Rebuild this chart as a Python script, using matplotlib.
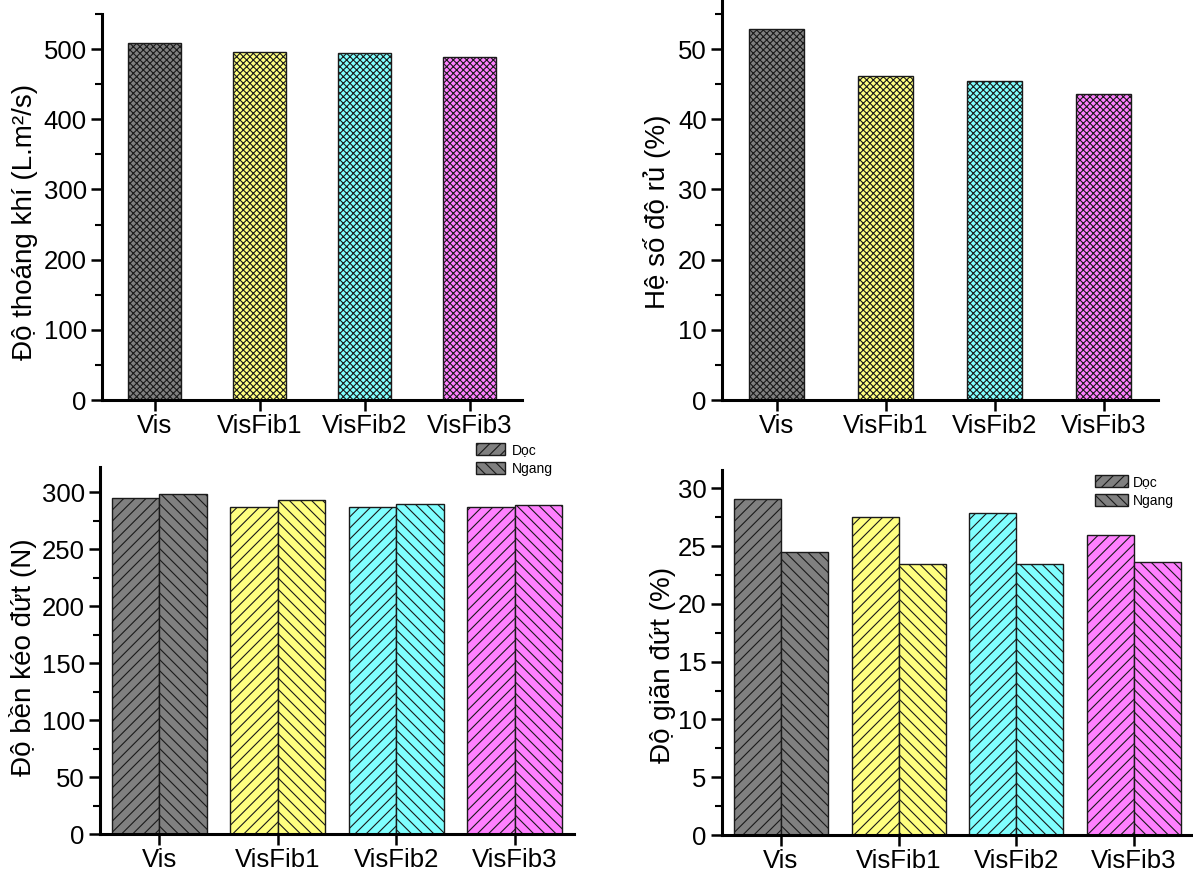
import numpy as np
import matplotlib
matplotlib.use("Agg")
import matplotlib.pyplot as plt
from matplotlib.ticker import MultipleLocator

plt.rcParams['font.family'] = ['Liberation Sans', 'DejaVu Sans']
plt.rcParams['hatch.linewidth'] = 0.8

# data
categories = ['Vis', 'VisFib1', 'VisFib2', 'VisFib3']
bar_colors = ['#808080', '#ffff80', '#80ffff', '#ff80ff']
thoang_khi = [509, 496, 494, 489]
do_ru = [52.9, 46.1, 45.5, 43.6]
ben_doc = [294.7, 286.8, 287.1, 286.5]
ben_ngang = [298.2, 293.2, 289.1, 288.5]
gian_doc = [29.1, 27.5, 27.85, 26.0]
gian_ngang = [24.5, 23.5, 23.5, 23.65]
series_labels = ['Dọc', 'Ngang']

W, H = 1193, 872
fig = plt.figure(figsize=(W / 100, H / 100), dpi=100)


def px_axes(x0, x1, ytop, ybot):
    # axes rect from pixel box
    return fig.add_axes([x0 / W, 1 - ybot / H, (x1 - x0) / W, (ybot - ytop) / H])


def style(ax, ymax, major, minor):
    for s in ['top', 'right']:
        ax.spines[s].set_visible(False)
    for s in ['left', 'bottom']:
        ax.spines[s].set_linewidth(2.2)
    ax.set_xlim(0.5, 4.5)
    ax.set_ylim(0, ymax)
    ax.yaxis.set_major_locator(MultipleLocator(major))
    ax.yaxis.set_minor_locator(MultipleLocator(minor))
    ax.set_xticks(np.arange(1, 5))
    ax.set_xticklabels(categories)
    ax.tick_params(axis='both', which='major', direction='out', length=8, width=1.8,
                   labelsize=18.5, pad=3)
    ax.tick_params(axis='y', which='minor', direction='out', length=5, width=1.5)
    ax.tick_params(axis='x', which='major', pad=2)


x = np.arange(1, 5)

# top left
ax1 = px_axes(102, 522, 14, 400)
ax1.bar(x, thoang_khi, width=0.5, color=bar_colors, edgecolor='#1a1a1a',
        linewidth=1.0, hatch='xxxxx')
style(ax1, 550, 100, 50)
fig.text(25 / W, 1 - 222 / H, 'Độ thoáng khí (L.m²/s)', rotation=90,
         ha='center', va='center', fontsize=20)

# top right
ax2 = px_axes(722, 1158, 0, 400)
ax2.bar(x, do_ru, width=0.5, color=bar_colors, edgecolor='#1a1a1a',
        linewidth=1.0, hatch='xxxxx')
style(ax2, 57, 10, 5)
fig.text(657 / W, 1 - 212 / H, 'Hệ số độ rủ (%)', rotation=90,
         ha='center', va='center', fontsize=20)

# bottom left
ax3 = px_axes(100, 574, 467, 834)
ax3.bar(x - 0.2, ben_doc, width=0.4, color=bar_colors, edgecolor='#1a1a1a',
        linewidth=1.0, hatch='///', label=series_labels[0])
ax3.bar(x + 0.2, ben_ngang, width=0.4, color=bar_colors, edgecolor='#1a1a1a',
        linewidth=1.0, hatch='\\\\\\', label=series_labels[1])
style(ax3, 322, 50, 25)
fig.text(23 / W, 1 - 657 / H, 'Độ bền kéo đứt (N)', rotation=90,
         ha='center', va='center', fontsize=20)
ax3.legend(loc='upper left', bbox_to_anchor=(476 / W, 1 - 443 / H),
           bbox_transform=fig.transFigure, frameon=False, borderpad=0,
           borderaxespad=0, fontsize=10, handlelength=2.1, handleheight=0.9,
           handletextpad=0.5, labelspacing=0.35)

# bottom right
ax4 = px_axes(722, 1193, 470, 835)
ax4.bar(x - 0.2, gian_doc, width=0.4, color=bar_colors, edgecolor='#1a1a1a',
        linewidth=1.0, hatch='///', label=series_labels[0])
ax4.bar(x + 0.2, gian_ngang, width=0.4, color=bar_colors, edgecolor='#1a1a1a',
        linewidth=1.0, hatch='\\\\\\', label=series_labels[1])
style(ax4, 31.6, 5, 2.5)
fig.text(663 / W, 1 - 665 / H, 'Độ giãn đứt (%)', rotation=90,
         ha='center', va='center', fontsize=20)
ax4.legend(loc='upper left', bbox_to_anchor=(1095 / W, 1 - 475 / H),
           bbox_transform=fig.transFigure, frameon=False, borderpad=0,
           borderaxespad=0, fontsize=10, handlelength=2.4, handleheight=0.95,
           handletextpad=0.3, labelspacing=0.35)

fig.savefig('out.png', dpi=100)
